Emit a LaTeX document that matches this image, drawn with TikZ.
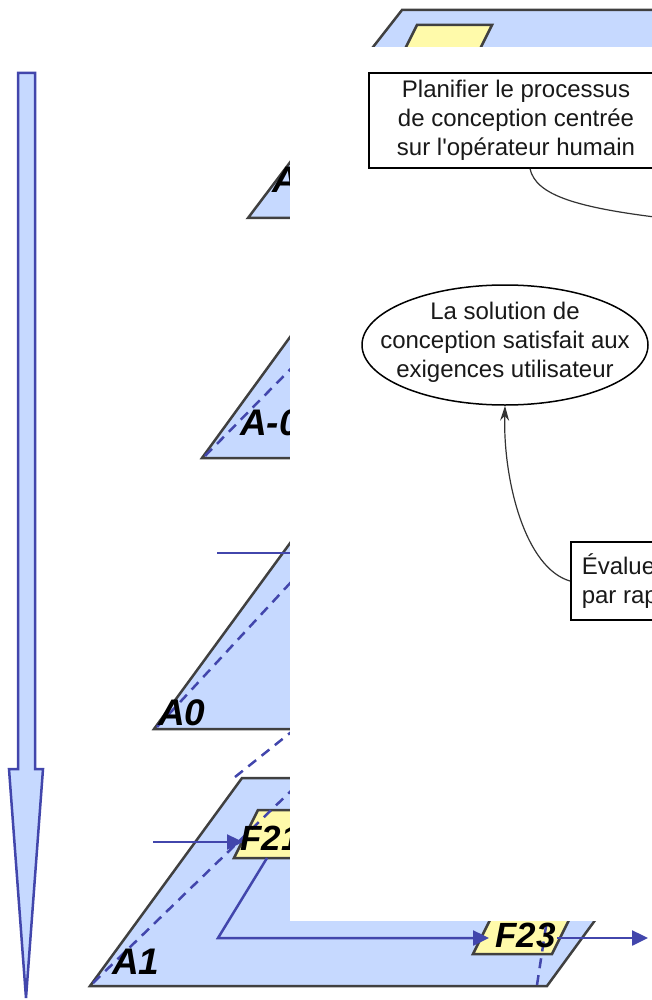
\documentclass[tikz,border=0pt]{standalone}
\usepackage{fontspec}
\setmainfont{Liberation Sans}
\usetikzlibrary{arrows.meta,shapes.geometric}
\definecolor{paneblue}{RGB}{198,217,255}
\definecolor{flowblue}{RGB}{66,70,172}
\definecolor{edgegray}{RGB}{64,64,64}
\definecolor{boxyellow}{RGB}{255,250,170}

\begin{document}
\begin{tikzpicture}[x=1pt,y=-1pt,
    pane/.style={fill=paneblue,draw=edgegray,line width=2.5pt},
    func/.style={fill=boxyellow,draw=edgegray,line width=2.5pt},
    flow/.style={draw=flowblue,line width=2.5pt,-{Triangle[length=16pt,width=15pt]}},
    trace/.style={draw=flowblue,line width=2.5pt,dash pattern=on 10pt off 7pt},
    lbl/.style={inner sep=0pt,anchor=base west,font=\fontsize{37}{40}\selectfont\bfseries\itshape},
    flbl/.style={lbl,font=\fontsize{35}{38}\selectfont\bfseries\itshape},
    task/.style={draw,line width=1.6pt,fill=white,align=center,text=black!90,
      font=\fontsize{24}{29}\selectfont},
    link/.style={draw=black!80,line width=1.2pt}]
  \useasboundingbox (0,0) rectangle (652,1000);

  % descent arrow
  \filldraw[fill=paneblue,draw=flowblue,line width=2.5pt]
    (18,73) -- (35,73) -- (35,769) -- (43,769) -- (26,998) -- (9,769) -- (18,769) -- cycle;

  % stacked diagram levels
  \filldraw[pane] (402,10) -- (700,10) -- (700,120) -- (316,120) -- cycle;
  \filldraw[func] (417,25) -- (492,25) -- (452,105) -- (377,105) -- cycle;
  \filldraw[pane] (322,120) -- (700,120) -- (700,218) -- (248,218) -- cycle;
  \filldraw[pane] (317,300) -- (700,300) -- (700,458) -- (202,458) -- cycle;
  \draw[trace] (205,456) -- (330,329);
  \filldraw[pane] (307,520) -- (700,520) -- (700,729) -- (154,729) -- cycle;
  \draw[trace] (157,727) -- (330,540);
  \draw[trace] (235,777) -- (340,693);

  % A1 with its functions
  \filldraw[pane] (242,778) -- (699,778) -- (547,986) -- (90,986) -- cycle;
  \filldraw[func] (258,810) -- (342,810) -- (318,858) -- (234,858) -- cycle;
  \filldraw[func] (497,906) -- (576,906) -- (552,954) -- (473,954) -- cycle;
  \draw[trace] (93,983) -- (330,753);
  \draw[trace] (537,985) -- (550,900);

  \coordinate (a0in) at (217,553);
  \coordinate (a0to) at (340,553);
  \coordinate (a1in) at (153,842);
  \coordinate (f21in) at (243,842);
  \coordinate (f21out) at (267,858);
  \coordinate (bend) at (218,938);
  \coordinate (f23in) at (489,938);
  \coordinate (f23out) at (557,938);
  \coordinate (a1out) at (648,938);
  \draw[flow] (a0in) -- (a0to);
  \draw[flow] (a1in) -- (f21in);
  \draw[flow] (f21out) -- (bend) -- (f23in);
  \draw[flow] (f23out) -- (a1out);

  \node[lbl] (lblAm1) at (272,193) {A-1};
  \node[lbl] (lblAm0) at (240,435) {A-0};
  \node[lbl] (lblA0) at (158,725) {A0};
  \node[lbl] (lblA1) at (112,974) {A1};
  \node[flbl] (lblF21) at (240,850) {F21};
  \node[flbl] (lblF23) at (495,947) {F23};

  % design cycle panel
  \fill[white] (290,47) rectangle (660,921);
  \node[task,minimum width=294pt,minimum height=95pt] (plan) at (516,120.5)
    {Planifier le processus\\de conception centrée\\sur l\textquotesingle opérateur humain};
  \node[draw,ellipse,line width=1.5pt,minimum width=286pt,minimum height=120pt,inner sep=0pt]
    (goal) at (505,345) {};
  \node[align=center,text=black!90,font=\fontsize{24}{29}\selectfont] (goaltext) at (505,342)
    {La solution de\\conception satisfait aux\\exigences utilisateur};
  \node[task,align=left,anchor=west,minimum height=78pt,inner xsep=11pt] (eval) at (570,581)
    {Évaluer la conception\\par rapport aux exigences};
  \coordinate (next) at (680,220);
  \draw[link,-{Stealth[length=13pt,width=8pt]}] ([xshift=14pt]plan.south)
    .. controls (536,195) and (575,208) .. (next);
  \draw[link,-{Stealth[length=15pt,width=9pt]}] (eval.west)
    .. controls (525,568) and (503,480) .. (goal.south);
\end{tikzpicture}
\end{document}
